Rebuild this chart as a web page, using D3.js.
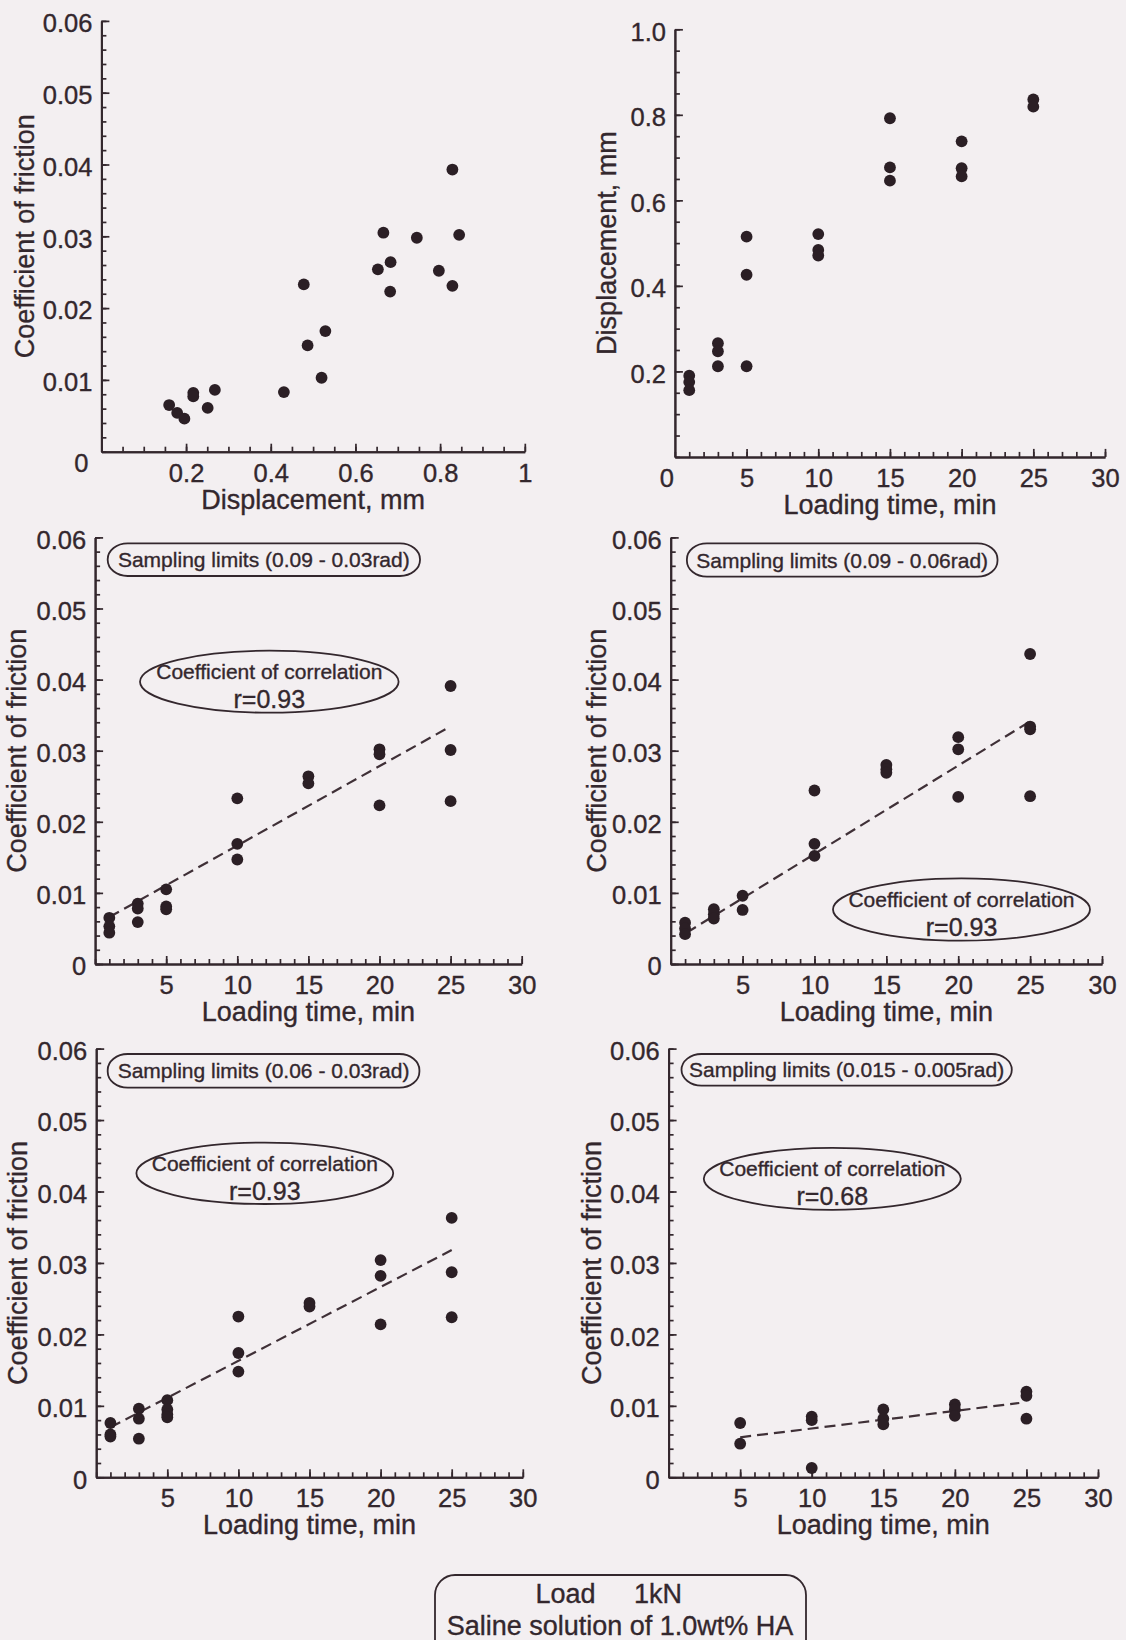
<!DOCTYPE html>
<html>
<head>
<meta charset="utf-8">
<script src="https://cdn.jsdelivr.net/npm/d3@7/dist/d3.min.js"></script>
<style>
  html, body { margin: 0; padding: 0; background: #f3eff1; }
  svg { display: block; }
  text { font-family: "Liberation Sans", Arial, Helvetica, sans-serif; fill: #33272d;
         stroke: #33272d; stroke-width: 0.35px; paint-order: stroke; }
</style>
</head>
<body>
<svg id="chart" width="1126" height="1640"></svg>
<script>
// ---------- data ----------
// Coefficient of friction vs displacement [mm, mu]
const dispCofPoints = [
  [0.160, 0.0065], [0.179, 0.0054], [0.196, 0.0046], [0.217, 0.0082], [0.217, 0.0077],
  [0.251, 0.0061], [0.268, 0.0086], [0.431, 0.0083], [0.478, 0.0233], [0.487, 0.0148],
  [0.520, 0.0103], [0.529, 0.0168], [0.653, 0.0254], [0.666, 0.0305], [0.683, 0.0264],
  [0.682, 0.0223], [0.745, 0.0298], [0.797, 0.0252], [0.829, 0.0393], [0.829, 0.0231],
  [0.845, 0.0302]
];

// Displacement vs loading time [min, mm]
const timeDispPoints = [
  [1, 0.190], [1, 0.175], [1, 0.156],
  [3, 0.266], [3, 0.247], [3, 0.212],
  [5, 0.515], [5, 0.426], [5, 0.212],
  [10, 0.521], [10, 0.484], [10, 0.471],
  [15, 0.792], [15, 0.677], [15, 0.646],
  [20, 0.738], [20, 0.675], [20, 0.656],
  [25, 0.836], [25, 0.819]
];

// Coefficient of friction vs loading time, sampling limits 0.09 - 0.03 rad
const cofLimitsA = [
  [1, 0.0065], [1, 0.0053], [1, 0.0044],
  [3, 0.0085], [3, 0.0078], [3, 0.0059],
  [5, 0.0105], [5, 0.0081], [5, 0.0077],
  [10, 0.0233], [10, 0.0169], [10, 0.0147],
  [15, 0.0264], [15, 0.0254],
  [20, 0.0302], [20, 0.0295], [20, 0.0223],
  [25, 0.0391], [25, 0.0301], [25, 0.0229]
];
const fitLimitsA = [[1, 0.0066], [24.8, 0.0332]];

// sampling limits 0.09 - 0.06 rad
const cofLimitsB = [
  [1, 0.0058], [1, 0.0050], [1, 0.0042],
  [3, 0.0077], [3, 0.0070], [3, 0.0064],
  [5, 0.0096], [5, 0.0076],
  [10, 0.0244], [10, 0.0169], [10, 0.0152],
  [15, 0.0280], [15, 0.0274], [15, 0.0269],
  [20, 0.0319], [20, 0.0302], [20, 0.0235],
  [25, 0.0436], [25, 0.0334], [25, 0.0330], [25, 0.0236]
];
const fitLimitsB = [[1.1, 0.0044], [24.9, 0.0340]];

// sampling limits 0.06 - 0.03 rad
const cofLimitsC = [
  [1, 0.0076], [1, 0.0060], [1, 0.0057],
  [3, 0.0096], [3, 0.0082], [3, 0.0054],
  [5, 0.0108], [5, 0.0095], [5, 0.0088], [5, 0.0084],
  [10, 0.0225], [10, 0.0174], [10, 0.0148],
  [15, 0.0244], [15, 0.0239],
  [20, 0.0304], [20, 0.0282], [20, 0.0214],
  [25, 0.0363], [25, 0.0287], [25, 0.0224]
];
const fitLimitsC = [[1, 0.0070], [25, 0.0318]];

// sampling limits 0.015 - 0.005 rad
const cofLimitsD = [
  [5, 0.0076], [5, 0.0047],
  [10, 0.0085], [10, 0.0080], [10, 0.0013],
  [15, 0.0095], [15, 0.0082], [15, 0.0074],
  [20, 0.0102], [20, 0.0095], [20, 0.0086],
  [25, 0.0120], [25, 0.0114], [25, 0.0082]
];
const fitLimitsD = [[5, 0.0056], [24.5, 0.0104]];

// ---------- tick values ----------
const cofTicks = [0.01, 0.02, 0.03, 0.04, 0.05, 0.06];
const cofTicksWithZero = [0, 0.01, 0.02, 0.03, 0.04, 0.05, 0.06];
const dispTicksX = [0.2, 0.4, 0.6, 0.8, 1];
const dispTicksY = [0.2, 0.4, 0.6, 0.8, 1.0];
const timeTicks = [5, 10, 15, 20, 25, 30];

// ---------- annotation texts ----------
const samplingLabels = [
  "Sampling limits (0.09 - 0.03rad)",
  "Sampling limits (0.09 - 0.06rad)",
  "Sampling limits (0.06 - 0.03rad)",
  "Sampling limits (0.015 - 0.005rad)"
];
const correlationValues = ["r=0.93", "r=0.93", "r=0.93", "r=0.68"];

// ---------- drawing ----------
const INK = "#33272d";
const DOT = "#2b1f25";
const svg = d3.select("#chart");

const fmt2 = d3.format(".2f");
const cofFmt = d => d === 0 ? "0" : fmt2(d);
const TICK_FONT = "25.5px";

const panels = [
  { left: 101.4, right: 524.8, top: 20.9, bottom: 451.7,
    xDomain: [0, 1], yDomain: [0, 0.06],
    xMinorStep: 0.05, yMinorStep: 0.002,
    xTicks: dispTicksX, xFmt: d3.format("~g"),
    yTicks: cofTicks, yFmt: cofFmt,
    points: dispCofPoints,
    xTitle: "Displacement, mm", yTitle: "Coefficient of friction", yTitleOff: 67,
    corner: "both" },
  { left: 674.9, right: 1105, top: 29.3, bottom: 456.9,
    xDomain: [0, 30], yDomain: [0, 1],
    xMinorStep: 1, yMinorStep: 0.05,
    xTicks: timeTicks, xFmt: d3.format("d"),
    yTicks: dispTicksY, yFmt: d3.format(".1f"),
    points: timeDispPoints,
    xTitle: "Loading time, min", yTitle: "Displacement, mm", yTitleOff: 58.5,
    corner: "x" },
  { left: 95.1, right: 521.7, top: 537.4, bottom: 964,
    xDomain: [0, 30], yDomain: [0, 0.06],
    xMinorStep: 1, yMinorStep: 0.002,
    xTicks: timeTicks, xFmt: d3.format("d"),
    yTicks: cofTicksWithZero, yFmt: cofFmt,
    points: cofLimitsA, fit: fitLimitsA,
    xTitle: "Loading time, min", yTitle: "Coefficient of friction", yTitleOff: 69,
    sampling: { label: samplingLabels[0], x0: 107.7, x1: 420, y0: 543.3, y1: 576 },
    corr: { r: correlationValues[0], cx: 269.3, cy: 681.7, rx: 129.3, ry: 31 } },
  { left: 670.7, right: 1102, top: 537.4, bottom: 964,
    xDomain: [0, 30], yDomain: [0, 0.06],
    xMinorStep: 1, yMinorStep: 0.002,
    xTicks: timeTicks, xFmt: d3.format("d"),
    yTicks: cofTicksWithZero, yFmt: cofFmt,
    points: cofLimitsB, fit: fitLimitsB,
    xTitle: "Loading time, min", yTitle: "Coefficient of friction", yTitleOff: 65,
    sampling: { label: samplingLabels[1], x0: 686.9, x1: 997.5, y0: 543.3, y1: 576.7 },
    corr: { r: correlationValues[1], cx: 961.5, cy: 909.5, rx: 128.5, ry: 31.2 } },
  { left: 96.2, right: 522.8, top: 1048.6, bottom: 1477.3,
    xDomain: [0, 30], yDomain: [0, 0.06],
    xMinorStep: 1, yMinorStep: 0.002,
    xTicks: timeTicks, xFmt: d3.format("d"),
    yTicks: cofTicksWithZero, yFmt: cofFmt,
    points: cofLimitsC, fit: fitLimitsC,
    xTitle: "Loading time, min", yTitle: "Coefficient of friction", yTitleOff: 69,
    sampling: { label: samplingLabels[2], x0: 107.7, x1: 419.4, y0: 1054, y1: 1087.7 },
    corr: { r: correlationValues[2], cx: 264.8, cy: 1173.3, rx: 128.4, ry: 30.7 } },
  { left: 668.6, right: 1098, top: 1048.6, bottom: 1477.3,
    xDomain: [0, 30], yDomain: [0, 0.06],
    xMinorStep: 1, yMinorStep: 0.002,
    xTicks: timeTicks, xFmt: d3.format("d"),
    yTicks: cofTicksWithZero, yFmt: cofFmt,
    points: cofLimitsD, fit: fitLimitsD,
    xTitle: "Loading time, min", yTitle: "Coefficient of friction", yTitleOff: 68,
    sampling: { label: samplingLabels[3], x0: 681.5, x1: 1011.8, y0: 1054, y1: 1085.7 },
    corr: { r: correlationValues[3], cx: 832.3, cy: 1178.8, rx: 128.5, ry: 31 } }
];

function styleAxis(g) {
  g.selectAll("path.domain").attr("stroke", INK).attr("stroke-width", 2);
  g.selectAll(".tick line").attr("stroke", INK).attr("stroke-width", 1.7);
  g.selectAll(".tick text").attr("fill", INK).style("font-size", TICK_FONT)
    .attr("font-family", null);
}

panels.forEach(p => {
  const x = d3.scaleLinear().domain(p.xDomain).range([p.left, p.right]);
  const y = d3.scaleLinear().domain(p.yDomain).range([p.bottom, p.top]);
  const g = svg.append("g");

  const xMinor = d3.range(p.xDomain[0], p.xDomain[1] + 1e-9, p.xMinorStep);
  const yMinor = d3.range(p.yDomain[0], p.yDomain[1] + 1e-9, p.yMinorStep);

  // minor ticks (inward)
  g.append("g").attr("transform", `translate(0,${p.bottom})`)
    .call(d3.axisBottom(x).tickValues(xMinor).tickSize(-5).tickSizeOuter(0).tickFormat(""))
    .call(styleAxis);
  g.append("g").attr("transform", `translate(${p.left},0)`)
    .call(d3.axisLeft(y).tickValues(yMinor).tickSize(-5).tickSizeOuter(0).tickFormat(""))
    .call(styleAxis);

  // major ticks with labels
  const xAx = g.append("g").attr("transform", `translate(0,${p.bottom})`)
    .call(d3.axisBottom(x).tickValues(p.xTicks).tickSize(-8).tickSizeOuter(0)
      .tickPadding(12).tickFormat(p.xFmt))
    .call(styleAxis);
  xAx.selectAll(".tick text").attr("dy", "0.71em");
  const yAx = g.append("g").attr("transform", `translate(${p.left},0)`)
    .call(d3.axisLeft(y).tickValues(p.yTicks).tickSize(-8).tickSizeOuter(0)
      .tickPadding(9).tickFormat(p.yFmt))
    .call(styleAxis);
  yAx.selectAll(".tick text").attr("dy", "0.42em");

  // corner zero labels
  if (p.corner === "both") {
    g.append("text").attr("x", x(0) - 20).attr("y", y(0) + 20)
      .attr("text-anchor", "middle").style("font-size", TICK_FONT).text("0");
  } else if (p.corner === "x") {
    g.append("text").attr("x", x(0) - 8).attr("y", y(0) + 30)
      .attr("text-anchor", "middle").style("font-size", TICK_FONT).text("0");
  }

  // axis titles
  g.append("text")
    .attr("x", (p.left + p.right) / 2).attr("y", p.bottom + 57)
    .attr("text-anchor", "middle").style("font-size", "27px").text(p.xTitle);
  g.append("text")
    .attr("transform", `translate(${p.left - p.yTitleOff},${(p.top + p.bottom) / 2}) rotate(-90)`)
    .attr("text-anchor", "middle").style("font-size", "27px").text(p.yTitle);

  // regression line
  if (p.fit) {
    g.append("path")
      .attr("d", d3.line().x(d => x(d[0])).y(d => y(d[1]))(p.fit))
      .attr("fill", "none").attr("stroke", "#3f3037")
      .attr("stroke-width", 2.2).attr("stroke-dasharray", "11,6");
  }

  // data points
  g.append("g").selectAll("circle").data(p.points).join("circle")
    .attr("cx", d => x(d[0])).attr("cy", d => y(d[1])).attr("r", 5.9)
    .attr("fill", DOT);

  // sampling limits tag
  if (p.sampling) {
    const s = p.sampling;
    g.append("rect")
      .attr("x", s.x0).attr("y", s.y0)
      .attr("width", s.x1 - s.x0).attr("height", s.y1 - s.y0)
      .attr("rx", 20).attr("ry", 16)
      .attr("fill", "none").attr("stroke", INK).attr("stroke-width", 1.8);
    g.append("text")
      .attr("x", (s.x0 + s.x1) / 2).attr("y", (s.y0 + s.y1) / 2 + 7.5)
      .attr("text-anchor", "middle").style("font-size", "21px").text(s.label);
  }

  // correlation ellipse
  if (p.corr) {
    const c = p.corr;
    g.append("ellipse")
      .attr("cx", c.cx).attr("cy", c.cy).attr("rx", c.rx).attr("ry", c.ry)
      .attr("fill", "none").attr("stroke", INK).attr("stroke-width", 1.8);
    g.append("text")
      .attr("x", c.cx).attr("y", c.cy - 2.5)
      .attr("text-anchor", "middle").style("font-size", "21px")
      .text("Coefficient of correlation");
    g.append("text")
      .attr("x", c.cx).attr("y", c.cy + 26.5)
      .attr("text-anchor", "middle").style("font-size", "25px")
      .text(c.r);
  }
});

// test conditions box
const cond = svg.append("g");
cond.append("rect")
  .attr("x", 435).attr("y", 1575).attr("width", 371).attr("height", 90)
  .attr("rx", 20).attr("ry", 20)
  .attr("fill", "none").attr("stroke", INK).attr("stroke-width", 1.8);
cond.append("text").attr("x", 565.5).attr("y", 1603)
  .attr("text-anchor", "middle").style("font-size", "27px").text("Load");
cond.append("text").attr("x", 658).attr("y", 1603)
  .attr("text-anchor", "middle").style("font-size", "27px").text("1kN");
cond.append("text").attr("x", 620).attr("y", 1635)
  .attr("text-anchor", "middle").style("font-size", "27px")
  .text("Saline solution of 1.0wt% HA");
</script>
</body>
</html>
